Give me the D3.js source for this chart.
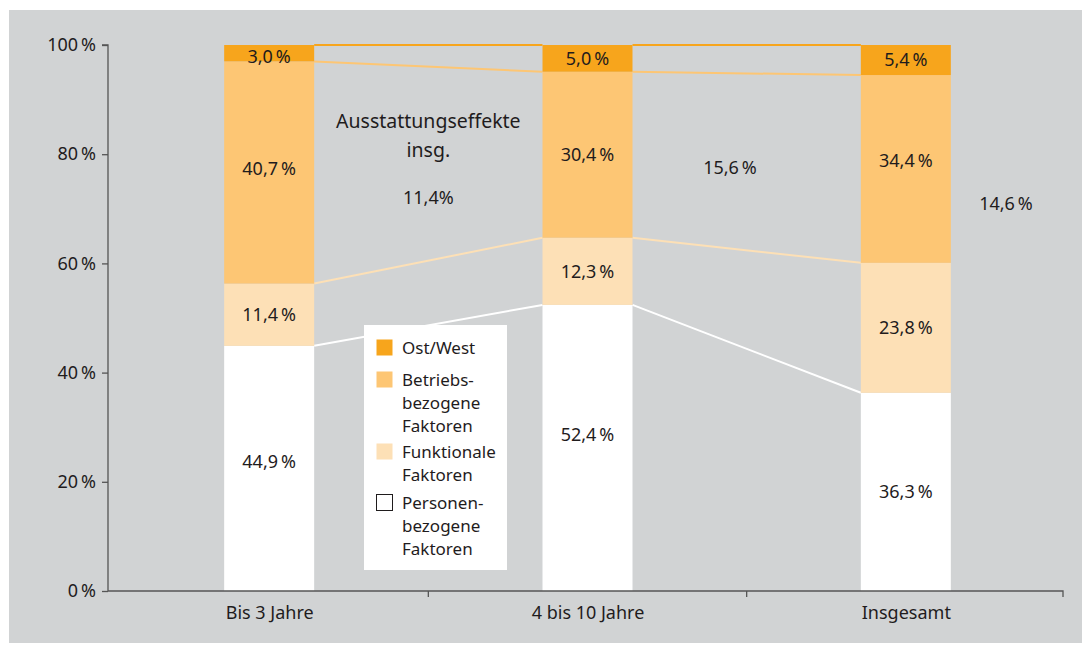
<!DOCTYPE html>
<html><head><meta charset="utf-8">
<script src="https://cdn.jsdelivr.net/npm/d3@7"></script>
<style>body{margin:0;background:#fff}svg{display:block}text{font-family:"Noto Sans",sans-serif;fill:#1f1c1d}</style>
</head><body><svg id="c" width="1082" height="645"></svg>
<script>
const categories = ["Bis 3 Jahre", "4 bis 10 Jahre", "Insgesamt"];
const seriesNames = ["Personen-\nbezogene\nFaktoren", "Funktionale\nFaktoren", "Betriebs-\nbezogene\nFaktoren", "Ost/West"];
const personen = [44.9, 52.4, 36.3];
const funktional = [11.4, 12.3, 23.8];
const betrieb = [40.7, 30.4, 34.4];
const ostwest = [3.0, 5.0, 5.4];
const yTicks = [0, 20, 40, 60, 80, 100];
const effektLabels = ["11,4%", "15,6\u2009%", "14,6\u2009%"];
const colors = ["#ffffff", "#fde0b6", "#fdc674", "#f7a51c"];
const lineColors = ["#ffffff", "#fde0b6", "#fdc674", "#f7a51c"];

const svg = d3.select("#c");
svg.append("rect").attr("x",9).attr("y",10).attr("width",1073).attr("height",633).attr("fill","#d1d3d4");

const x = d3.scalePoint().domain(categories).range([110,1065]).padding(0.5);
const y = d3.scaleLinear().domain([0,100]).range([591,45]);
const bw = 90;
const fmt = v => d3.format(".1f")(v).replace(".", ",") + "\u2009%";

const series = [personen, funktional, betrieb, ostwest];
const stacks = categories.map((c,i)=>{let acc=0; return series.map((s,k)=>{const y0=acc; acc+=s[i]; return {c,i,k,y0,y1:acc,v:s[i]};});});
stacks.forEach(st=>{const top=st[st.length-1]; top.y1=100;});

for (let k=0;k<4;k++){
  for (let i=0;i<categories.length-1;i++){
    const a=stacks[i][k], b=stacks[i+1][k];
    svg.append("line").attr("x1",x(categories[i])+bw/2).attr("x2",x(categories[i+1])-bw/2)
      .attr("y1",y(a.y1)).attr("y2",y(b.y1)).attr("stroke",lineColors[k]).attr("stroke-width",2);
  }
}

const g = svg.append("g");
stacks.forEach(st=>st.forEach(d=>{
  g.append("rect").attr("x",x(d.c)-bw/2).attr("width",bw).attr("y",y(d.y1)).attr("height",y(d.y0)-y(d.y1)).attr("fill",colors[d.k]);
}));
stacks.forEach(st=>st.forEach(d=>{
  let ty=(y(d.y0)+y(d.y1))/2;
  if (d.k===3 && d.i===0) ty+=3;
  if (d.k===0 && d.i<2) ty-= (d.i===0?7:13);
  if (d.k===2 && d.i===0) ty-=4;
  if (d.k===2 && d.i===2) ty-=8;
  g.append("text").attr("x",x(d.c)).attr("y",ty).attr("dy","0.36em").attr("text-anchor","middle")
    .attr("font-size",18).text(fmt(d.v));
}));

const ya = svg.append("g").attr("transform","translate(108,0)").call(d3.axisLeft(y).tickValues(yTicks).tickSize(6).tickPadding(6).tickFormat(v=>v+"\u2009%"));
const xa = svg.append("g").attr("transform","translate(0,591)").call(d3.axisBottom(x).tickSize(0).tickPadding(15));
[ya,xa].forEach(a=>{a.selectAll("text").attr("font-size",18).attr("font-family","Noto Sans").attr("fill","#1f1c1d");
  a.select(".domain").attr("stroke","#555").attr("stroke-width",1.3); a.selectAll(".tick line").attr("stroke","#555").attr("stroke-width",1.3);});
ya.select(".domain").attr("d","M-6,45H0V591");
xa.select(".domain").attr("d","M108,0H1063V6");
const step = x.step();
categories.slice(1).forEach(c=>{
  svg.append("line").attr("x1",x(c)-step/2).attr("x2",x(c)-step/2).attr("y1",591).attr("y2",597).attr("stroke","#555").attr("stroke-width",1.3);
});

const ann = svg.append("g").attr("font-size",18);
const mid01 = (x(categories[0])+x(categories[1]))/2;
ann.append("text").attr("x",mid01).attr("y",128).attr("text-anchor","middle").attr("font-size",19.5).text("Ausstattungseffekte");
ann.append("text").attr("x",mid01).attr("y",157).attr("text-anchor","middle").attr("font-size",19.5).text("insg.");
ann.append("text").attr("x",mid01).attr("y",198).attr("dy","0.36em").attr("text-anchor","middle").text(effektLabels[0]);
ann.append("text").attr("x",730).attr("y",168).attr("dy","0.36em").attr("text-anchor","middle").text(effektLabels[1]);
ann.append("text").attr("x",1006).attr("y",204).attr("dy","0.36em").attr("text-anchor","middle").text(effektLabels[2]);

const lg = svg.append("g").attr("transform","translate(364,325)");
lg.append("rect").attr("width",143).attr("height",245).attr("fill","#fff");
const legendItems = [3,2,1,0];
const itemTop = [23, 55, 127, 178];
legendItems.forEach((k,n)=>{
  const ly = itemTop[n];
  lg.append("rect").attr("x",12.5).attr("y",ly-8.5).attr("width",16).attr("height",16).attr("fill",colors[k])
    .attr("stroke",k===0?"#1f1c1d":"none").attr("stroke-width",1);
  seriesNames[k].split("\n").forEach((t,j)=>{
    lg.append("text").attr("x",38).attr("y",ly+j*23).attr("dy","0.36em").attr("font-size",17).text(t);
  });
});
</script></body></html>
